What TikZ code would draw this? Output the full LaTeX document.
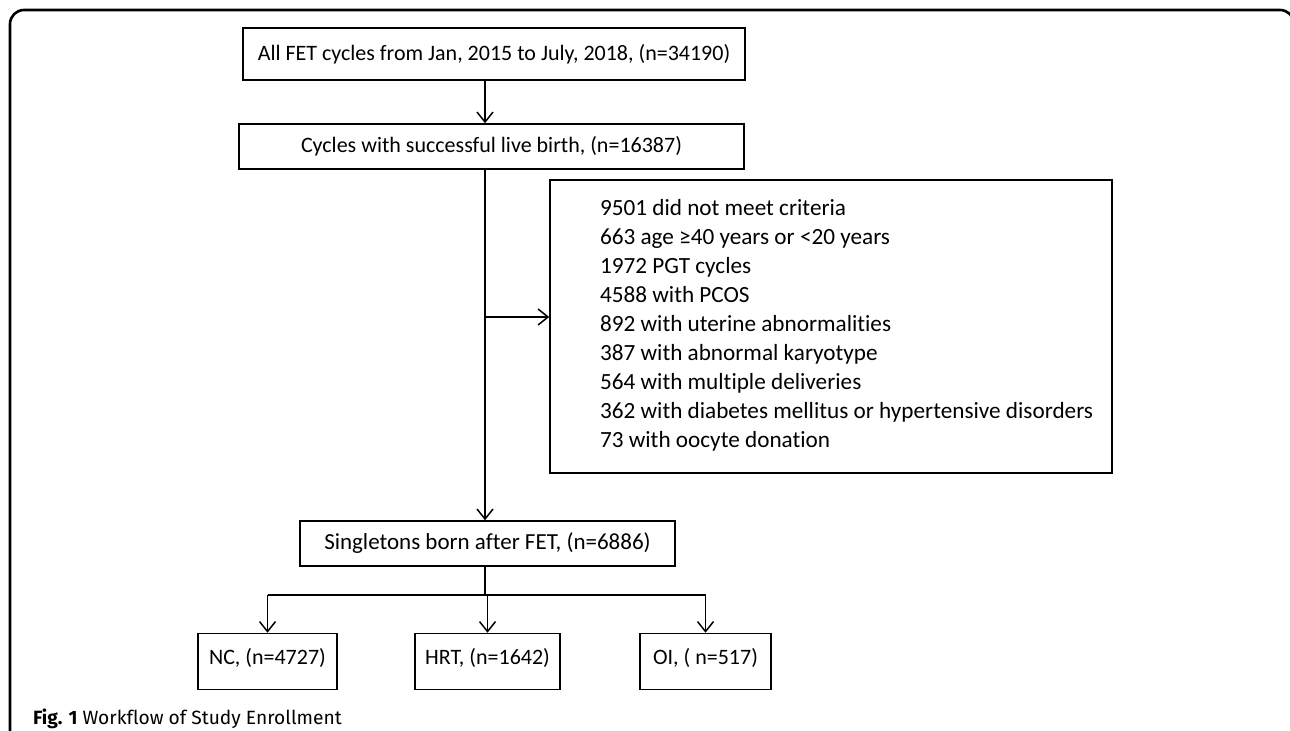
\documentclass[tikz,border=0pt]{standalone}
\usepackage{fontspec}
\setmainfont{Carlito}[Ligatures=NoCommon]
\newfontfamily\capfont{Fira Sans}[Ligatures=NoCommon]
\usetikzlibrary{positioning, arrows.meta}

\begin{document}
\begin{tikzpicture}[
		x=0.5pt, y=-0.5pt,
		every box/.style={draw, line width=0.75pt, inner sep=0pt, font=\fontsize{11}{14}\selectfont},
		group box/.style={minimum height=28pt, text depth=5.5pt},
		>={Straight Barb[length=5pt, width=8pt, line width=0.75pt]}
	]
	\useasboundingbox (0,0) rectangle (1290,731);

	\draw [line width=1.3pt, rounded corners=7pt] (10,740) -- (10,10) -- (1294,10) -- (1294,40);

	\node [every box/.try, minimum width=251pt, minimum height=26pt] (allfet) at (494,54) {All FET cycles from Jan, 2015 to July, 2018, (n=34190)};
	\node [every box/.try, minimum width=252.5pt, minimum height=22.5pt] (cycles) at (491.5,146.5) {Cycles with successful live birth, (n=16387)};
	\node [every box/.try, minimum width=281pt, minimum height=146.5pt] (excl) at (831,326.5) {};
	\node [anchor=west, align=left, font=\fontsize{11.6}{14.5}\selectfont] (excltext) at (593,325) {9501 did not meet criteria\\
		663 age ≥40 years or <20 years\\
		1972 PGT cycles\\
		4588 with PCOS\\
		892 with uterine abnormalities\\
		387 with abnormal karyotype\\
		564 with multiple deliveries\\
		362 with diabetes mellitus or hypertensive disorders\\
		73 with oocyte donation};
	\node [every box/.try, minimum width=187.5pt, minimum height=22.5pt, font=\fontsize{11.5}{14}\selectfont] (singleton) at (487.5,543.5) {Singletons born after FET, (n=6886)};

	\foreach \n/\l/\x/\w in {nc/{NC, (n=4727)}/267.5/69.5, hrt/{HRT, (n=1642)}/487.5/72.5, oi/{OI, ( n=517)}/705.5/65.5}
		\node [every box/.try, group box, minimum width=\w pt] (\n) at (\x,661.5) {\l};

	\coordinate (stem) at (485,317);
	\coordinate (split) at (485,595);

	\draw [->, line width=0.75pt] (allfet.south -| stem) -- (cycles.north -| stem);
	\draw [->, line width=0.75pt] (cycles.south -| stem) -- (singleton.north -| stem);
	\draw [->, line width=0.75pt] (stem) -- (stem -| excl.west);
	\draw [line width=0.75pt] (singleton.south -| split) -- (split);
	\draw [line width=0.75pt] (split -| nc.north) -- (split -| oi.north);
	\foreach \n in {nc, hrt, oi}
		\draw [->, line width=0.75pt] (split -| \n.north) -- (\n.north);

	\node [anchor=base west, font=\capfont\fontsize{9.6}{12}\selectfont] (caption) at (26,724) {\textbf{Fig. 1} Workflow of Study Enrollment};
\end{tikzpicture}
\end{document}
